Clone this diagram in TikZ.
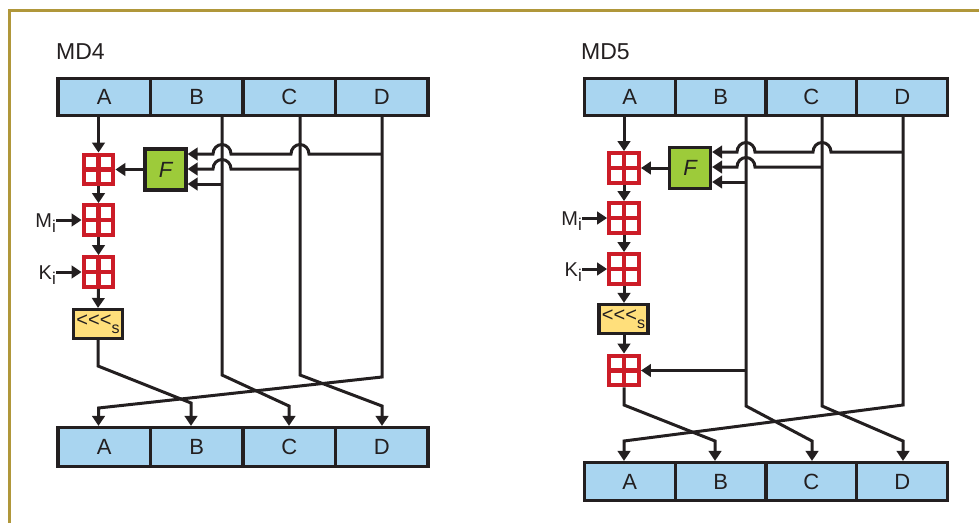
\documentclass[tikz,border=0pt]{standalone}
\usepackage{fontspec}
\setmainfont{Liberation Sans}
\usetikzlibrary{arrows.meta}
\definecolor{regblue}{HTML}{A9D5F0}
\definecolor{fgreen}{HTML}{9DCB3A}
\definecolor{ryellow}{HTML}{FFDF7B}
\definecolor{addred}{HTML}{CC1C27}
\definecolor{gold}{HTML}{B0973A}
\definecolor{linec}{HTML}{231F20}
\tikzset{
  reg/.style={draw=linec, fill=regblue, line width=3.1pt, inner sep=0pt,
    font=\fontsize{22}{22}\selectfont, text=linec},
  adder/.style={draw=addred, fill=white, line width=4.3pt, minimum size=29.5pt, inner sep=0pt,
    path picture={\draw[addred, line width=4.3pt]
      (path picture bounding box.north) -- (path picture bounding box.south)
      (path picture bounding box.west) -- (path picture bounding box.east);}},
  fbox/.style={draw=linec, fill=fgreen, line width=3.1pt, minimum width=41pt, minimum height=41pt,
    inner sep=0pt, font=\fontsize{22}{22}\selectfont\itshape, text=linec},
  rotbox/.style={draw=linec, fill=ryellow, line width=3.1pt, minimum width=49pt, minimum height=29pt,
    inner sep=0pt, font=\fontsize{20}{20}\selectfont, text=linec},
  lbl/.style={inner sep=0pt, font=\fontsize{20}{20}\selectfont, text=linec},
  title/.style={inner sep=0pt, font=\fontsize{23}{23}\selectfont, text=linec},
  wire/.style={draw=linec, line width=3pt},
  arr/.style={wire, -{Triangle[length=10pt,width=12.5pt]}},
}
\newcommand{\subi}{\raisebox{-5pt}{\fontsize{17}{17}\selectfont i}}
\newcommand{\rotl}{<{}<{}<\raisebox{-7pt}{\fontsize{16}{16}\selectfont s}}
\begin{document}
\begin{tikzpicture}[x=1pt,y=-1pt]
\useasboundingbox (0,0) rectangle (979,522);
% frame
\draw[gold, line width=3pt] (9.3,530) -- (9.3,10.7) -- (990,10.7);

% ================= MD4 =================
\node[title, anchor=base west] (t4) at (56,59.5) {MD4};
\foreach \n/\x in {A/104.25,B/196.75,C/289.25,D/381.75}{
  \node[reg, minimum width=92.5pt, minimum height=37pt] (Lt\n) at (\x,97) {\n};
  \node[reg, minimum width=92.5pt, minimum height=39pt] (Lb\n) at (\x,447) {\n};
}
\node[adder] (La1) at (98.5,169.5) {};
\node[adder] (La2) at (98.5,220) {};
\node[adder] (La3) at (98.5,272) {};
\node[fbox] (LF) at (165.5,169.5) {F};
\node[rotbox] (Lrot) at (98,324) {\rotl};
\node[lbl, anchor=base east] (LM) at (56,227) {M\subi};
\node[lbl, anchor=base east] (LK) at (56,279) {K\subi};

\draw[arr] (LtA.south -| La1) -- (La1.north);
\draw[arr] (LF.west) -- (La1.east);
\draw[arr] (La1.south) -- (La2.north);
\draw[arr] (La2.south) -- (La3.north);
\draw[arr] (La3.south) -- (Lrot.north);
\draw[arr] (LM.east |- La2) -- (La2.west);
\draw[arr] (LK.east |- La3) -- (La3.west);
% D line
\draw[arr] (LtD.south -| 382,0) -- (382,377) -- (98.5,408) -- (LbA.north -| 98.5,0);
\draw[arr] (382,154) -- (309,154) arc[start angle=0,end angle=180,x radius=9pt,y radius=9.5pt]
  -- (231,154) arc[start angle=0,end angle=180,x radius=9pt,y radius=9.5pt] -- (LF.east |- 0,154);
% C line
\draw[arr] (LtC.south -| 300,0) -- (300,375) -- (382,406) -- (LbD.north -| 382,0);
\draw[arr] (300,169) -- (231,169) arc[start angle=0,end angle=180,x radius=9pt,y radius=9.5pt]
  -- (LF.east |- 0,169);
% B line
\draw[arr] (LtB.south -| 222,0) -- (222,375) -- (289,406) -- (LbC.north -| 289,0);
\draw[arr] (222,184) -- (LF.east |- 0,184);
% A path
\draw[arr] (Lrot.south) -- (98,366) -- (191,403) -- (LbB.north -| 191,0);

% ================= MD5 =================
\node[title, anchor=base west] (t5) at (581,59.5) {MD5};
\foreach \n/\x in {A/629.8,B/720.6,C/811.4,D/902.2}{
  \node[reg, minimum width=90.8pt, minimum height=37pt] (Rt\n) at (\x,97) {\n};
  \node[reg, minimum width=90.8pt, minimum height=38pt] (Rb\n) at (\x,481.5) {\n};
}
\node[adder] (Ra1) at (624,168) {};
\node[adder] (Ra2) at (624,218) {};
\node[adder] (Ra3) at (624,269) {};
\node[adder] (Ra4) at (624,370.5) {};
\node[fbox] (RF) at (690,168) {F};
\node[rotbox] (Rrot) at (623.5,319) {\rotl};
\node[lbl, anchor=base east] (RM) at (582,225) {M\subi};
\node[lbl, anchor=base east] (RK) at (582,276) {K\subi};

\draw[arr] (RtA.south -| Ra1) -- (Ra1.north);
\draw[arr] (RF.west) -- (Ra1.east);
\draw[arr] (Ra1.south) -- (Ra2.north);
\draw[arr] (Ra2.south) -- (Ra3.north);
\draw[arr] (Ra3.south) -- (Rrot.north -| Ra3);
\draw[arr] (Rrot.south -| Ra4) -- (Ra4.north);
\draw[arr] (RM.east |- Ra2) -- (Ra2.west);
\draw[arr] (RK.east |- Ra3) -- (Ra3.west);
% D line
\draw[arr] (RtD.south -| 903,0) -- (903,405) -- (624,441) -- (RbA.north -| 624,0);
\draw[arr] (903,152) -- (831,152) arc[start angle=0,end angle=180,x radius=9pt,y radius=9.5pt]
  -- (755,152) arc[start angle=0,end angle=180,x radius=9pt,y radius=9.5pt] -- (RF.east |- 0,152);
% C line
\draw[arr] (RtC.south -| 822,0) -- (822,406) -- (903,441) -- (RbD.north -| 903,0);
\draw[arr] (822,167) -- (755,167) arc[start angle=0,end angle=180,x radius=9pt,y radius=9.5pt]
  -- (RF.east |- 0,167);
% B line
\draw[arr] (RtB.south -| 746,0) -- (746,406) -- (812,441) -- (RbC.north -| 812,0);
\draw[arr] (746,182) -- (RF.east |- 0,182);
\draw[arr] (746,370.5) -- (Ra4.east);
% A path
\draw[arr] (Ra4.south) -- (624,405) -- (715,441) -- (RbB.north -| 715,0);
\end{tikzpicture}
\end{document}
